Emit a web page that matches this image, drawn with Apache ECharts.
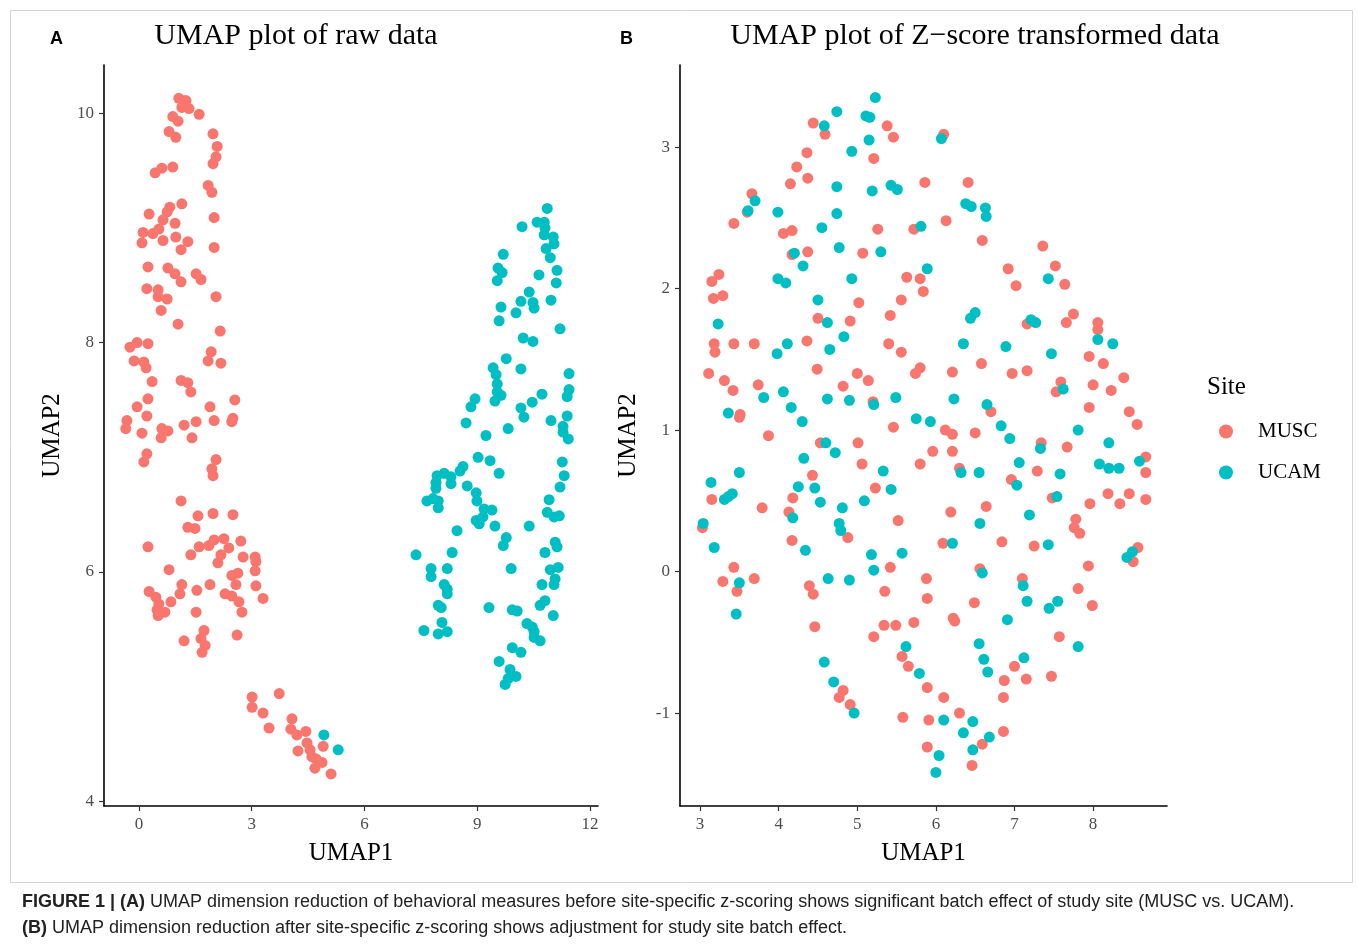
<!DOCTYPE html>
<html>
<head>
<meta charset="utf-8">
<title>UMAP plots by site</title>
<script src="https://cdn.jsdelivr.net/npm/echarts@6/dist/echarts.min.js"></script>
<style>
  html, body { margin: 0; padding: 0; background: #ffffff; }
  #chart { width: 1358px; height: 947px; }
</style>
</head>
<body>
<div id="chart"></div>
<script>
// ---- Panel A: UMAP of raw data (UMAP1, UMAP2) ----
const rawMusc = [
  [1.06,10.13],[1.25,10.11],[1.14,10.05],[1.33,10.04],[1.60,9.99],[0.90,9.97],[1.04,9.93],[0.80,9.84],
  [0.98,9.79],[1.97,9.82],[2.08,9.71],[2.05,9.62],[1.97,9.56],[0.43,9.48],[0.61,9.52],[0.90,9.53],
  [1.84,9.37],[1.94,9.31],[1.14,9.21],[0.82,9.18],[0.75,9.14],[0.27,9.12],[0.64,9.07],[0.96,9.04],
  [2.00,9.09],[0.11,8.96],[0.37,8.95],[0.53,8.99],[0.08,8.87],[0.64,8.89],[0.98,8.92],[1.30,8.88],
  [1.12,8.81],[2.00,8.83],[0.24,8.66],[0.77,8.65],[0.96,8.60],[1.12,8.53],[1.52,8.60],[1.65,8.55],
  [0.21,8.47],[0.51,8.46],[0.51,8.40],[0.75,8.38],[0.59,8.28],[2.05,8.40],[1.04,8.16],[2.16,8.10],
  [-0.24,7.96],[-0.05,8.00],[0.24,7.99],[-0.13,7.84],[0.13,7.83],[0.19,7.78],[1.92,7.92],[1.84,7.84],
  [2.18,7.82],[0.35,7.66],[1.12,7.67],[1.30,7.65],[1.38,7.57],[0.24,7.51],[-0.05,7.44],[0.21,7.36],
  [-0.32,7.32],[-0.35,7.25],[0.08,7.21],[0.61,7.25],[0.77,7.23],[0.59,7.17],[1.20,7.28],[1.52,7.31],
  [1.41,7.17],[1.89,7.44],[2.00,7.32],[2.50,7.34],[2.55,7.50],[2.47,7.31],[0.21,7.03],[0.13,6.96],
  [2.05,6.98],[1.94,6.90],[1.97,6.84],[1.12,6.62],[1.57,6.49],[1.97,6.51],[2.50,6.50],[1.30,6.39],
  [1.49,6.38],[0.24,6.22],[2.00,6.28],[2.26,6.29],[2.71,6.27],[1.60,6.22],[1.86,6.23],[1.38,6.15],
  [2.39,6.21],[2.18,6.15],[2.10,6.08],[2.77,6.13],[3.09,6.13],[3.11,6.09],[0.80,6.02],[3.09,6.01],
  [2.47,5.97],[2.63,5.99],[2.58,5.89],[3.11,5.88],[3.30,5.77],[0.27,5.83],[0.45,5.78],[0.53,5.72],
  [0.48,5.67],[0.69,5.65],[0.51,5.62],[0.85,5.74],[1.09,5.81],[1.14,5.89],[1.54,5.84],[1.89,5.89],
  [2.29,5.81],[2.47,5.79],[2.66,5.74],[2.74,5.65],[1.52,5.65],[1.73,5.49],[1.65,5.42],[1.76,5.36],
  [1.68,5.30],[1.20,5.40],[2.61,5.45],
  [3.01,4.91],[3.01,4.82],[3.73,4.94],[3.30,4.77],[3.46,4.64],[4.07,4.72],[4.04,4.63],[4.20,4.58],
  [4.44,4.61],[4.47,4.51],[4.23,4.44],[4.55,4.45],[4.90,4.48],[4.71,4.37],[4.87,4.34],[4.68,4.29],
  [5.11,4.24],[4.60,4.39]
];
const rawUcam = [
  [4.92,4.58],[5.30,4.45],
  [10.86,9.17],[10.19,9.01],[10.59,9.05],[10.78,9.05],[10.80,9.00],[10.78,8.94],[11.02,8.92],[11.04,8.86],
  [10.83,8.82],[10.94,8.74],[9.69,8.77],[9.55,8.65],[9.66,8.61],[9.53,8.54],[10.64,8.59],[11.12,8.63],
  [11.10,8.52],[10.38,8.44],[10.16,8.36],[10.48,8.35],[10.51,8.30],[10.96,8.37],[9.63,8.31],[10.03,8.26],
  [9.58,8.19],[11.20,8.12],[10.22,8.04],[10.48,8.01],[9.77,7.86],[9.42,7.78],[10.16,7.77],[9.50,7.72],
  [9.53,7.64],[9.53,7.57],[9.63,7.54],[9.47,7.49],[11.44,7.73],[11.44,7.59],[11.39,7.53],[10.72,7.55],
  [10.46,7.48],[8.94,7.51],[8.83,7.44],[10.16,7.43],[10.24,7.35],[11.39,7.36],[10.96,7.32],[11.28,7.27],
  [11.28,7.22],[11.42,7.16],[8.70,7.30],[9.82,7.25],[9.23,7.19],
  [9.02,7.00],[9.34,6.97],[9.58,6.86],[8.62,6.92],[8.54,6.88],[7.93,6.84],[8.12,6.86],[8.30,6.83],
  [7.90,6.78],[8.30,6.77],[7.90,6.73],[8.73,6.75],[8.97,6.69],[8.99,6.62],[7.66,6.62],[7.82,6.64],
  [7.96,6.62],[7.96,6.56],[9.18,6.55],[9.39,6.54],[9.15,6.48],[8.97,6.45],[9.05,6.42],[9.47,6.40],
  [8.46,6.36],[9.77,6.30],[9.69,6.23],[10.38,6.40],[11.26,6.96],[11.31,6.84],[11.20,6.74],[10.91,6.63],
  [10.86,6.52],[11.04,6.48],[11.18,6.49],[11.07,6.26],[11.12,6.22],[10.80,6.17],[7.37,6.15],[8.33,6.17],
  [7.77,6.03],[8.20,6.03],[7.77,5.96],[8.12,5.89],[8.20,5.85],[8.20,5.81],[9.90,6.03],[10.94,6.02],
  [11.15,6.04],[11.07,5.94],[11.04,5.89],[10.72,5.89],[10.80,5.75],[10.67,5.71],[7.96,5.71],[8.04,5.69],
  [9.31,5.69],[11.02,5.62],[9.93,5.67],[10.06,5.66],[8.06,5.56],[7.58,5.49],[7.96,5.46],[8.20,5.48],
  [10.32,5.55],[10.46,5.52],[10.51,5.48],[10.51,5.43],[10.67,5.40],[9.93,5.34],[10.16,5.30],[9.58,5.22],
  [9.87,5.15],[10.03,5.09],[9.82,5.07],[9.74,5.02]
];

// ---- Panel B: UMAP after site-specific z-scoring ----
const zMusc = [
  [4.44,3.17],[4.59,3.09],[5.38,3.15],[5.46,3.07],[4.36,2.96],[4.23,2.86],[4.37,2.78],[4.15,2.74],
  [5.21,2.92],[5.86,2.75],[3.66,2.67],[3.60,2.54],[3.43,2.46],[4.06,2.39],[4.17,2.41],[5.26,2.42],
  [5.72,2.42],[4.17,2.24],[4.37,2.26],[5.07,2.25],[3.24,2.10],[3.15,2.05],[3.17,1.93],[3.29,1.95],
  [5.63,2.08],[5.80,2.07],[5.84,1.98],[5.02,1.90],[5.56,1.92],[4.50,1.79],[4.91,1.77],[5.42,1.81],
  [6.10,3.09],[6.41,2.75],[6.13,2.48],[6.59,2.34],[7.36,2.30],[6.92,2.14],[7.52,2.16],[7.02,2.02],
  [7.64,2.03],[7.75,1.82],[7.66,1.76],[8.06,1.76],[7.16,1.75],[8.06,1.71],
  [3.18,1.61],[3.19,1.55],[3.43,1.61],[3.69,1.61],[4.36,1.63],[5.40,1.61],[5.56,1.55],[3.11,1.40],
  [3.31,1.35],[3.42,1.28],[3.74,1.32],[4.49,1.43],[5.00,1.40],[5.14,1.35],[4.82,1.31],[5.74,1.40],
  [5.80,1.44],[3.51,1.11],[3.50,1.09],[5.20,1.20],[5.46,1.02],[3.87,0.96],[4.53,0.91],[5.01,0.91],
  [5.06,0.76],[5.80,0.76],[4.43,0.68],[5.23,0.59],[3.15,0.51],[4.18,0.52],[3.79,0.45],[4.13,0.42],
  [3.03,0.31],[4.88,0.24],[4.17,0.22],[5.52,0.36],
  [6.21,1.41],[6.58,1.47],[6.97,1.40],[7.16,1.42],[7.95,1.52],[8.13,1.47],[8.39,1.37],[7.59,1.34],
  [7.53,1.27],[8.00,1.32],[8.23,1.28],[7.95,1.16],[8.46,1.13],[8.56,1.04],[6.70,1.13],[6.12,1.00],
  [6.21,0.97],[6.50,0.98],[5.96,0.85],[6.21,0.85],[6.30,0.73],[7.34,0.91],[7.67,0.88],[7.29,0.71],
  [6.96,0.65],[7.48,0.52],[8.67,0.81],[8.67,0.70],[8.19,0.55],[8.46,0.55],[8.34,0.48],[8.67,0.51],
  [7.96,0.48],[6.19,0.42],[6.64,0.46],[7.78,0.37],[7.76,0.31],[7.83,0.27],[6.09,0.20],[6.84,0.21],
  [7.25,0.18],[8.57,0.17],[8.51,0.07],
  [3.43,0.03],[3.29,-0.07],[3.69,-0.05],[3.47,-0.14],[4.39,-0.10],[4.44,-0.16],[4.46,-0.39],[5.42,0.03],
  [5.35,-0.14],[5.88,-0.05],[5.89,-0.19],[5.21,-0.46],[5.34,-0.38],[5.49,-0.38],[5.72,-0.36],[5.57,-0.60],
  [5.65,-0.67],[4.82,-0.84],[4.77,-0.89],[4.91,-0.94],[5.58,-1.03],[5.89,-0.82],[5.91,-1.05],[5.89,-1.24],
  [6.56,0.02],[7.10,-0.05],[6.49,-0.22],[6.22,-0.33],[6.24,-0.35],[7.94,0.04],[7.81,-0.12],[7.99,-0.24],
  [7.57,-0.46],[7.00,-0.67],[6.87,-0.77],[7.15,-0.76],[7.47,-0.74],[6.86,-0.89],[6.10,-0.89],[6.30,-1.00],
  [6.86,-1.13],[6.59,-1.22],[6.46,-1.37]
];
const zUcam = [
  [5.23,3.35],[4.74,3.25],[5.11,3.22],[5.16,3.21],[4.58,3.15],[5.15,3.05],[4.93,2.97],[4.74,2.72],
  [5.19,2.69],[5.43,2.73],[5.51,2.70],[3.70,2.62],[3.61,2.55],[3.99,2.54],[4.74,2.53],[4.55,2.43],
  [5.81,2.44],[4.77,2.29],[5.30,2.26],[4.20,2.25],[4.31,2.16],[3.99,2.07],[4.09,2.04],[4.93,2.07],
  [5.89,2.14],[4.50,1.92],[3.23,1.75],[4.62,1.76],
  [6.07,3.06],[6.38,2.60],[6.45,2.58],[6.63,2.57],[6.64,2.51],[7.43,2.07],[6.50,1.83],[6.44,1.79],
  [7.21,1.78],[7.27,1.76],
  [4.83,1.66],[4.11,1.61],[3.98,1.54],[4.65,1.57],[3.81,1.23],[4.06,1.27],[4.16,1.16],[4.30,1.06],
  [4.62,1.22],[4.90,1.21],[5.21,1.18],[5.49,1.23],[5.75,1.08],[5.93,1.06],[3.36,1.12],[4.60,0.91],
  [4.72,0.84],[4.32,0.80],[3.50,0.70],[3.14,0.63],[3.31,0.51],[3.41,0.55],[3.36,0.53],[4.25,0.60],
  [4.46,0.59],[4.53,0.49],[5.33,0.71],[5.43,0.58],[5.09,0.50],[4.81,0.45],[4.18,0.38],[4.77,0.34],
  [4.79,0.29],[3.04,0.34],[3.18,0.17],[4.34,0.15],[5.18,0.12],[5.57,0.13],
  [6.35,1.61],[6.89,1.59],[7.47,1.54],[8.06,1.64],[8.25,1.61],[7.62,1.29],[6.23,1.22],[6.65,1.18],
  [6.83,1.03],[6.94,0.94],[7.81,1.00],[7.33,0.87],[8.20,0.91],[7.06,0.77],[8.08,0.76],[8.20,0.73],
  [8.33,0.73],[8.59,0.78],[6.32,0.70],[6.55,0.70],[7.03,0.61],[7.58,0.69],[7.54,0.53],[7.19,0.40],
  [6.56,0.34],[6.21,0.20],[7.43,0.19],[8.50,0.14],[8.43,0.10],
  [3.50,-0.08],[3.46,-0.30],[4.63,-0.05],[4.90,-0.06],[5.21,0.01],[5.62,-0.53],[5.79,-0.72],[4.58,-0.64],
  [4.70,-0.78],[4.96,-1.00],
  [6.59,-0.01],[7.11,-0.10],[7.16,-0.21],[7.44,-0.26],[7.55,-0.21],[6.91,-0.34],[7.81,-0.53],[6.55,-0.51],
  [6.61,-0.62],[6.66,-0.71],[7.12,-0.61],[6.10,-1.05],[6.47,-1.06],[6.35,-1.14],[6.68,-1.17],[6.47,-1.26],
  [6.04,-1.30],[6.00,-1.42]
];

// Tick values shown on each axis
const rawXTicks = [0, 3, 6, 9, 12];
const rawYTicks = [4, 6, 8, 10];
const zXTicks = [3, 4, 5, 6, 7, 8];
const zYTicks = [-1, 0, 1, 2, 3];

const siteNames = ['MUSC', 'UCAM'];
const siteColors = ['#F8766D', '#00BFC4'];

const serif = '"Liberation Serif", "DejaVu Serif", serif';
const sans = '"Liberation Sans", Arial, sans-serif';

function valueAxis(gridIndex, min, max, ticks, name, isY) {
  return {
    type: 'value',
    gridIndex: gridIndex,
    min: min,
    max: max,
    name: name,
    nameLocation: 'middle',
    nameGap: isY ? 39 : 35,
    nameTextStyle: { fontFamily: serif, fontSize: 25, color: '#000' },
    splitLine: { show: false },
    axisLine: { show: true, onZero: false, lineStyle: { color: '#000', width: 1.6 } },
    axisTick: { show: true, length: 5, customValues: ticks, lineStyle: { color: '#333', width: 1.2 } },
    axisLabel: { customValues: ticks, fontFamily: serif, fontSize: 17, color: '#4D4D4D', margin: 10 }
  };
}

function scatter(name, color, data, idx) {
  return {
    name: name,
    type: 'scatter',
    xAxisIndex: idx,
    yAxisIndex: idx,
    data: data,
    symbol: 'circle',
    symbolSize: 11,
    itemStyle: { color: color, opacity: 1 },
    emphasis: { disabled: true },
    silent: true,
    animation: false
  };
}

const chart = echarts.init(document.getElementById('chart'), null, { renderer: 'canvas' });

chart.setOption({
  backgroundColor: '#ffffff',
  animation: false,
  title: [
    { text: 'UMAP plot of raw data', left: 291, top: 16, textAlign: 'center',
      textStyle: { fontFamily: serif, fontSize: 30, fontWeight: 'normal', color: '#000' } },
    { text: 'UMAP plot of Z\u2212score transformed data', left: 970, top: 16, textAlign: 'center',
      textStyle: { fontFamily: serif, fontSize: 30, fontWeight: 'normal', color: '#000' } },
    { text: 'Site', left: 1202, top: 370,
      textStyle: { fontFamily: serif, fontSize: 25, fontWeight: 'normal', color: '#000' } }
  ],
  legend: {
    data: siteNames,
    orient: 'vertical',
    left: 1214,
    top: 416,
    itemWidth: 14,
    itemHeight: 14,
    itemGap: 20,
    icon: 'circle',
    selectedMode: false,
    textStyle: { fontFamily: serif, fontSize: 21, color: '#000', padding: [0, 0, 0, 20] }
  },
  grid: [
    { left: 104, top: 65, width: 494, height: 741, containLabel: false },
    { left: 680, top: 65, width: 487, height: 741, containLabel: false }
  ],
  xAxis: [
    valueAxis(0, -0.93, 12.21, rawXTicks, 'UMAP1', false),
    valueAxis(1, 2.745, 8.94, zXTicks, 'UMAP1', false)
  ],
  yAxis: [
    valueAxis(0, 3.96, 10.42, rawYTicks, 'UMAP2', true),
    valueAxis(1, -1.657, 3.58, zYTicks, 'UMAP2', true)
  ],
  series: [
    scatter('MUSC', siteColors[0], rawMusc, 0),
    scatter('UCAM', siteColors[1], rawUcam, 0),
    scatter('MUSC', siteColors[0], zMusc, 1),
    scatter('UCAM', siteColors[1], zUcam, 1)
  ],
  graphic: [
    // thin frame around the figure panels
    { type: 'rect', left: 8, top: 8, silent: true,
      shape: { width: 1342, height: 872 },
      style: { fill: 'none', stroke: '#d4d4d4', lineWidth: 1 } },
    { type: 'text', left: 50, top: 30,
      style: { text: 'A', font: 'bold 18px ' + sans, fill: '#000' } },
    { type: 'text', left: 620, top: 30,
      style: { text: 'B', font: 'bold 18px ' + sans, fill: '#000' } },
    { type: 'text', left: 22, top: 893,
      style: {
        text: '{b|FIGURE 1 | (A)} UMAP dimension reduction of behavioral measures before site-specific z-scoring shows significant batch effect of study site (MUSC vs. UCAM).',
        font: '18px ' + sans, fill: '#222',
        rich: { b: { font: 'bold 18px ' + sans, fill: '#222' } }
      } },
    { type: 'text', left: 22, top: 919,
      style: {
        text: '{b|(B)} UMAP dimension reduction after site-specific z-scoring shows adjustment for study site batch effect.',
        font: '18px ' + sans, fill: '#222',
        rich: { b: { font: 'bold 18px ' + sans, fill: '#222' } }
      } }
  ]
});
</script>
</body>
</html>
